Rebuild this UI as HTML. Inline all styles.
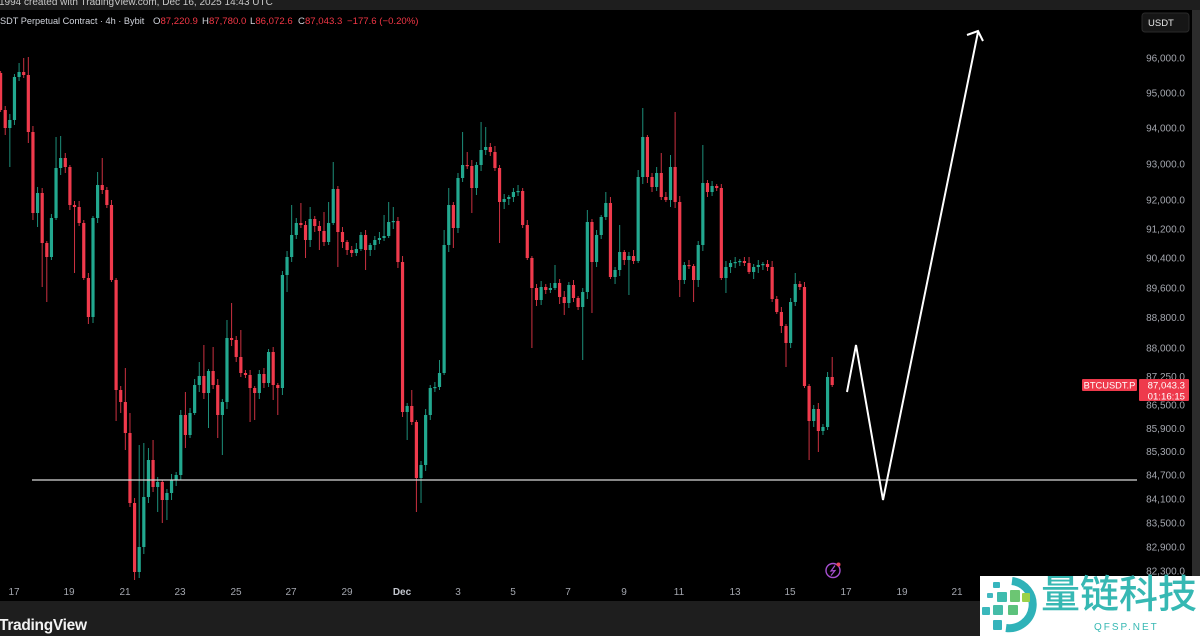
<!DOCTYPE html>
<html>
<head>
<meta charset="utf-8">
<style>
html,body{margin:0;padding:0;background:#000;}
body{width:1200px;height:636px;overflow:hidden;position:relative;font-family:"Liberation Sans",sans-serif;}
svg{display:block;}
</style>
</head>
<body>
<svg id="chart" width="1200" height="636" viewBox="0 0 1200 636" xmlns="http://www.w3.org/2000/svg" font-family="Liberation Sans, sans-serif">
  <rect x="0" y="0" width="1200" height="636" fill="#000"/>
  <!-- top bar -->
  <rect x="0" y="0" width="1200" height="10" fill="#1e1e1e"/>
  <text x="-1" y="4.8" font-size="10" fill="#c8c8c8">1994 created with TradingView.com, Dec 16, 2025 14:43 UTC</text>
  <!-- right strip -->
  <rect x="1192" y="10" width="8" height="591" fill="#2c2c2c"/>
  <!-- bottom bar -->
  <rect x="0" y="601" width="1200" height="35" fill="#1e1e1e"/>
  <text x="-1" y="630" font-size="15.5" font-weight="bold" fill="#f2f2f2" letter-spacing="-0.3">TradingView</text>

  <!-- legend -->
  <g font-size="9.6" fill="#d1d4dc">
    <text x="0" y="24" font-size="9.2">SDT Perpetual Contract · 4h · Bybit</text>
    <text x="153" y="24">O<tspan fill="#f23645">87,220.9</tspan></text>
    <text x="202" y="24">H<tspan fill="#f23645">87,780.0</tspan></text>
    <text x="250" y="24">L<tspan fill="#f23645">86,072.6</tspan></text>
    <text x="298" y="24">C<tspan fill="#f23645">87,043.3</tspan></text>
    <text x="347" y="24" fill="#f23645">−177.6 (−0.20%)</text>
  </g>

  <!-- USDT button -->
  <rect x="1142" y="13" width="47" height="19" rx="3" fill="#161616" stroke="#2a2a2a" stroke-width="1"/>
  <text x="1148" y="26" font-size="9.5" fill="#e6e6e6">USDT</text>

  <!-- price axis labels -->
  <g id="yaxis" font-size="10" fill="#a3a6ae" text-anchor="end"></g>

  <!-- date labels -->
  <g font-size="10" fill="#a3a6ae" text-anchor="middle">
    <text x="14" y="595">17</text>
    <text x="69" y="595">19</text>
    <text x="125" y="595">21</text>
    <text x="180" y="595">23</text>
    <text x="236" y="595">25</text>
    <text x="291" y="595">27</text>
    <text x="347" y="595">29</text>
    <text x="402" y="595" font-weight="bold" fill="#c3c6ce">Dec</text>
    <text x="458" y="595">3</text>
    <text x="513" y="595">5</text>
    <text x="568" y="595">7</text>
    <text x="624" y="595">9</text>
    <text x="679" y="595">11</text>
    <text x="735" y="595">13</text>
    <text x="790" y="595">15</text>
    <text x="846" y="595">17</text>
    <text x="902" y="595">19</text>
    <text x="957" y="595">21</text>
  </g>

  <!-- candles -->
  <g id="candles"></g>

  <!-- horizontal support line -->
  <line x1="32" y1="480" x2="1137" y2="480" stroke="#d8d8d8" stroke-width="1.2"/>

  <!-- projection arrow -->
  <polyline points="847,392 856,345 883,500 978,32" fill="none" stroke="#ffffff" stroke-width="2" stroke-linejoin="miter"/>
  <polyline points="967,35 978,31 983,41" fill="none" stroke="#ffffff" stroke-width="2"/>

  <!-- price labels on right -->
  <rect x="1082" y="379" width="55" height="12" rx="1" fill="#ee3a4c"/>
  <text x="1109.5" y="388.5" font-size="9.3" fill="#fff" text-anchor="middle">BTCUSDT.P</text>
  <rect x="1139" y="379" width="50" height="22" rx="1" fill="#ee3a4c"/>
  <text x="1185" y="388.5" font-size="9.6" fill="#fff" text-anchor="end">87,043.3</text>
  <text x="1185" y="399.5" font-size="9.6" fill="#fff" text-anchor="end">01:16:15</text>

  <!-- purple lightning icon -->
  <circle cx="833" cy="570.5" r="7" fill="none" stroke="#a64fd0" stroke-width="1.4"/>
  <polyline points="835,565.5 831,571 835,570.5 831,575.5" fill="none" stroke="#a64fd0" stroke-width="1.2"/>
  <circle cx="838.5" cy="564.5" r="2" fill="#e8455a"/>

  <!-- watermark logo -->
  <rect x="980" y="576" width="220" height="60" fill="#ffffff"/>
  <g>
    <path d="M1012,581 A23,23 0 0 1 1006,628" fill="none" stroke="#2fb2b8" stroke-width="8"/>
    <rect x="993" y="582" width="7" height="6" rx="1" fill="#36b5bd"/>
    <rect x="987" y="593" width="6" height="5" rx="1" fill="#42b8c0"/>
    <rect x="997" y="592" width="10" height="10" rx="1" fill="#3fbcae"/>
    <rect x="1010" y="590" width="10" height="12" rx="1" fill="#6cc673"/>
    <rect x="1022" y="593" width="8" height="9" rx="1" fill="#9bd24a"/>
    <rect x="982" y="607" width="8" height="8" rx="1" fill="#3ab8bc"/>
    <rect x="993" y="605" width="10" height="10" rx="1" fill="#45bca8"/>
    <rect x="1008" y="605" width="10" height="10" rx="1" fill="#5cc27c"/>
    <rect x="993" y="620" width="9" height="10" rx="1" fill="#35b3bb"/>
  </g>
  <text x="1041" y="608" font-size="39" font-family="Noto Sans CJK SC, WenQuanYi Zen Hei, sans-serif" font-weight="500" fill="#36b8b3">量链科技</text>
  <text x="1094" y="630" font-size="10" fill="#36b8b3" letter-spacing="2">QFSP.NET</text>
</svg>

<script>
(function(){
  var NS="http://www.w3.org/2000/svg";
  var ya=document.getElementById('yaxis');
  var prices=[96000,95000,94000,93000,92000,91200,90400,89600,88800,88000,87250,86500,85900,85300,84700,84100,83500,82900,82300];
  var lnTop=Math.log(96000), k=3331.6;
  prices.forEach(function(p){
    var y=58+(lnTop-Math.log(p))*k;
    var t=document.createElementNS(NS,'text');
    t.setAttribute('x','1185');
    t.setAttribute('y',(y+3.5).toFixed(1));
    t.textContent=p.toLocaleString('en-US')+'.0';
    ya.appendChild(t);
  });

  var C=[110,128,120,77,72,75,132,213,193,243,257,218,168,158,167,205,207,223,278,317,
  218,185,190,205,280,390,402,433,503,572,547,497,460,487,482,500,493,480,475,415,
  435,413,385,376,393,371,385,415,402,338,340,357,373,375,388,393,374,383,352,385,
  388,275,257,235,223,225,240,219,226,231,242,223,189,232,242,250,253,249,235,250,
  245,240,238,236,222,221,262,412,406,422,478,465,415,388,387,373,245,205,228,178,
  165,166,188,165,150,147,152,168,202,199,197,192,191,225,258,288,300,287,290,288,
  283,297,303,285,298,307,292,222,262,235,217,203,277,270,252,260,256,261,177,137,
  177,187,173,197,200,167,202,280,265,266,280,245,183,192,186,188,278,267,263,262,
  261,263,272,267,265,264,267,299,312,326,343,302,284,287,386,421,409,431,427,377,385];
  var HI={4:63,5:58,6:57,8:187,12:137,13:136,21:172,22:158,27:368,28:413,30:445,31:443,32:448,33:440,40:392,41:408,43:362,44:345,46:347,49:320,50:303,52:330,63:205,65:203,67:207,70:212,71:202,72:162,83:215,84:202,85:207,89:390,95:360,96:230,97:188,100:132,101:152,104:122,105:127,120:265,127:210,131:192,134:225,138:170,139:108,143:153,145:155,146:112,152:145,172:273,180:357};
  var LO={2:167,6:143,8:227,9:287,10:302,16:273,25:421,26:413,27:450,29:580,30:578,34:512,35:523,36:520,40:448,45:428,47:438,48:455,54:422,55:420,59:400,60:415,62:292,66:258,69:250,73:267,79:270,88:440,90:512,91:503,98:248,102:213,108:243,115:348,122:315,126:360,128:313,136:295,147:297,150:302,157:293,170:367,175:460,177:452};
  var g=document.getElementById('candles');
  var o=73;
  for(var i=0;i<C.length;i++){
    var c=C[i], x=0.6+i*4.62;
    var top=Math.min(o,c), bot=Math.max(o,c);
    var hi=top-(2+(i*7)%5), lo=bot+(2+(i*11)%6);
    if(HI[i]!==undefined) hi=HI[i];
    if(LO[i]!==undefined) lo=LO[i];
    var col=(c<=o)?'#22a88f':'#f03a4c';
    var l=document.createElementNS(NS,'line');
    l.setAttribute('x1',x.toFixed(2));l.setAttribute('x2',x.toFixed(2));
    l.setAttribute('y1',hi);l.setAttribute('y2',lo);
    l.setAttribute('stroke',col);l.setAttribute('stroke-width','1');l.setAttribute('stroke-opacity','0.85');
    g.appendChild(l);
    var r=document.createElementNS(NS,'rect');
    r.setAttribute('x',(x-1.6).toFixed(2));r.setAttribute('y',top);
    r.setAttribute('width','3.2');r.setAttribute('height',Math.max(bot-top,1.2));
    r.setAttribute('fill',col);
    g.appendChild(r);
    o=c;
  }
})();
</script>
</body>
</html>
